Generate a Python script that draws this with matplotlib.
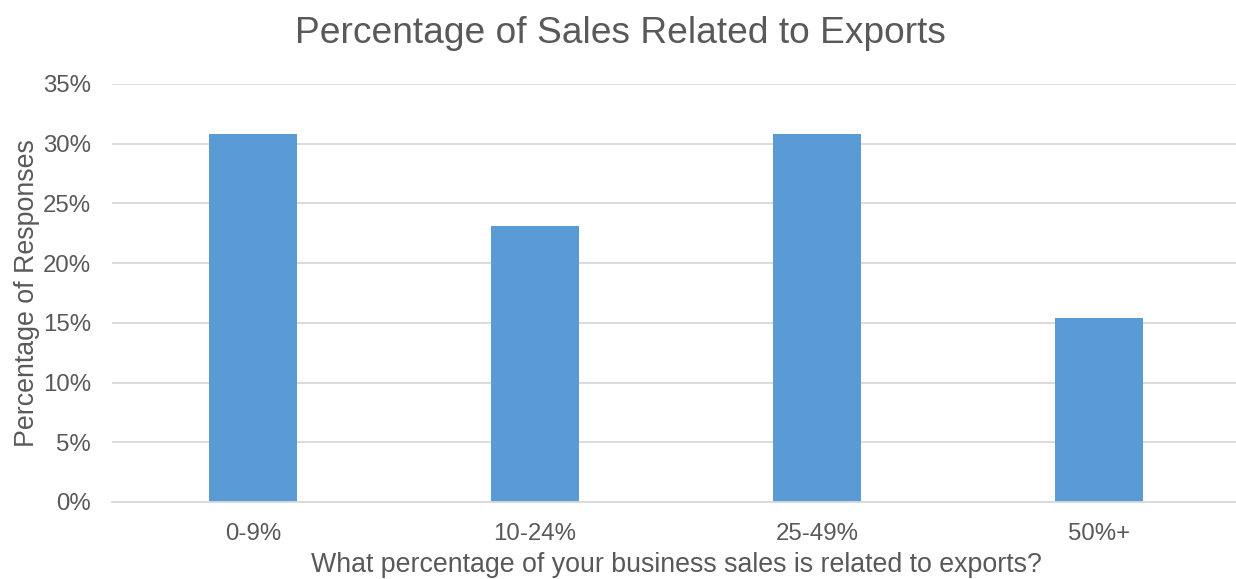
import matplotlib.pyplot as plt
from matplotlib.ticker import PercentFormatter

plt.rcParams["font.family"] = ["Liberation Sans", "DejaVu Sans"]

categories = ["0-9%", "10-24%", "25-49%", "50%+"]
shares = [30.77, 23.08, 30.77, 15.38]

TEXT = "#595959"
GRID = "#d9d9d9"
BAR = "#5b9bd5"

fig = plt.figure(figsize=(12.36, 5.79), dpi=100)
ax = fig.add_axes([0.0906, 0.133, 0.9126, 0.722])

ax.bar(range(len(categories)), shares, width=0.31, color=BAR, zorder=2)
ax.set_xlim(-0.5, len(categories) - 0.5)
ax.set_ylim(0, 35)
ax.set_yticks(range(0, 36, 5))
ax.yaxis.set_major_formatter(PercentFormatter(decimals=0))
ax.set_xticks(range(len(categories)))
ax.set_xticklabels(categories)

ax.grid(axis="y", color=GRID, linewidth=1.3, zorder=0)
for side in ["top", "right", "left"]:
    ax.spines[side].set_visible(False)
ax.spines["bottom"].set_color(GRID)
ax.spines["bottom"].set_linewidth(1.3)
ax.tick_params(axis="both", length=0, labelsize=17.3, colors=TEXT)
ax.tick_params(axis="x", pad=15)
ax.tick_params(axis="y", pad=15)

ax.set_xlabel("What percentage of your business sales is related to exports?",
              fontsize=19.3, color=TEXT, labelpad=5)
ax.set_ylabel("Percentage of Responses", fontsize=19.3, color=TEXT, labelpad=2)
fig.suptitle("Percentage of Sales Related to Exports", fontsize=26.7, color=TEXT,
             x=0.502, y=0.943, va="center")

fig.savefig("out.png", dpi=100)
